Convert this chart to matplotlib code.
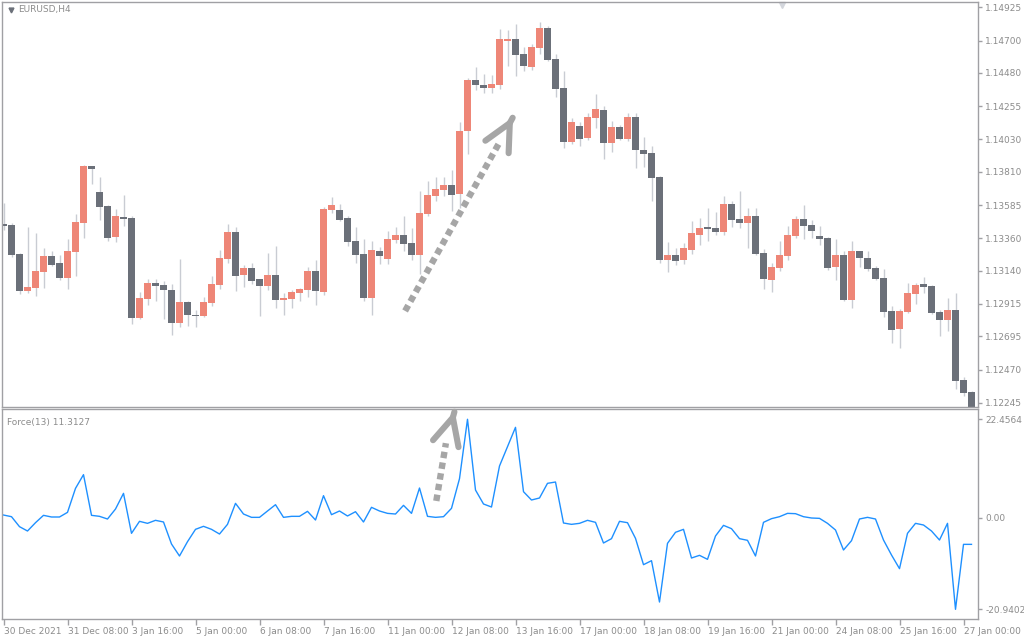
import matplotlib
matplotlib.use("Agg")
import matplotlib.pyplot as plt
import numpy as np

# EURUSD H4 candles
opens = [1.13456, 1.13449, 1.13253, 1.13002, 1.13022, 1.13131, 1.13239, 1.13192, 1.13090, 1.13266,
         1.13463, 1.13849, 1.13673, 1.13578, 1.13368, 1.13504, 1.13497, 1.12819, 1.12948, 1.13056,
         1.13042, 1.13009, 1.12785, 1.12927, 1.12842, 1.12835, 1.12921, 1.13042, 1.13219, 1.13402,
         1.13111, 1.13158, 1.13083, 1.13036, 1.13111, 1.12941, 1.12948, 1.12989, 1.13009, 1.13138,
         1.12995, 1.13551, 1.13551, 1.13497, 1.13341, 1.13253, 1.12955, 1.13273, 1.13219, 1.13348,
         1.13382, 1.13327, 1.13246, 1.13524, 1.13646, 1.13687, 1.13721, 1.13660, 1.14087, 1.14432,
         1.14398, 1.14378, 1.14398, 1.14697, 1.14710, 1.14608, 1.14520, 1.14649, 1.14785, 1.14575,
         1.14378, 1.14012, 1.14121, 1.14039, 1.14175, 1.14229, 1.14005, 1.14114, 1.14032, 1.14182,
         1.13958, 1.13938, 1.13775, 1.13212, 1.13246, 1.13212, 1.13280, 1.13382, 1.13436, 1.13429,
         1.13402, 1.13592, 1.13490, 1.13463, 1.13511, 1.13260, 1.13077, 1.13158, 1.13239, 1.13375,
         1.13490, 1.13449, 1.13375, 1.13361, 1.13165, 1.13246, 1.12941, 1.13273, 1.13226, 1.13158,
         1.13090, 1.12867, 1.12745, 1.12860, 1.12982, 1.13050, 1.13036, 1.12860, 1.12806, 1.12873,
         1.12399, 1.12318]
highs = [1.13599, 1.13463, 1.13260, 1.13436, 1.13395, 1.13294, 1.13273, 1.13246, 1.13355, 1.13524,
         1.13856, 1.13852, 1.13775, 1.13585, 1.13558, 1.13653, 1.13511, 1.12995, 1.13083, 1.13083,
         1.13070, 1.13050, 1.13219, 1.12934, 1.12873, 1.12961, 1.13104, 1.13280, 1.13456, 1.13436,
         1.13178, 1.13192, 1.13085, 1.13260, 1.13307, 1.12989, 1.13009, 1.13022, 1.13165, 1.13212,
         1.13571, 1.13639, 1.13592, 1.13511, 1.13436, 1.13355, 1.13341, 1.13300, 1.13409, 1.13436,
         1.13511, 1.13429, 1.13680, 1.13747, 1.13775, 1.13775, 1.13822, 1.14148, 1.14446, 1.14520,
         1.14473, 1.14466, 1.14778, 1.14771, 1.14812, 1.14656, 1.14676, 1.14825, 1.14798, 1.14608,
         1.14493, 1.14175, 1.14148, 1.14209, 1.14337, 1.14256, 1.14155, 1.14127, 1.14209, 1.14209,
         1.14046, 1.13985, 1.13782, 1.13334, 1.13294, 1.13327, 1.13477, 1.13497, 1.13565, 1.13538,
         1.13646, 1.13612, 1.13680, 1.13565, 1.13565, 1.13287, 1.13192, 1.13341, 1.13443, 1.13511,
         1.13585, 1.13483, 1.13443, 1.13368, 1.13355, 1.13273, 1.13341, 1.13275, 1.13273, 1.13172,
         1.13151, 1.12901, 1.12880, 1.13056, 1.13056, 1.13097, 1.13042, 1.12873, 1.12955, 1.12989,
         1.12419, 1.12324]
lows = [1.13416, 1.13233, 1.12982, 1.12989, 1.12968, 1.13022, 1.13172, 1.13077, 1.13016, 1.13104,
        1.13361, 1.13727, 1.13483, 1.13341, 1.13334, 1.13443, 1.12778, 1.12812, 1.12907, 1.12934,
        1.12812, 1.12704, 1.12758, 1.12765, 1.12758, 1.12826, 1.12901, 1.13016, 1.13192, 1.13002,
        1.13029, 1.13050, 1.12833, 1.13009, 1.12887, 1.12842, 1.12887, 1.12934, 1.12961, 1.12907,
        1.12975, 1.13531, 1.13477, 1.13307, 1.13192, 1.12934, 1.12839, 1.13185, 1.13185, 1.13327,
        1.13273, 1.13212, 1.13117, 1.13511, 1.13612, 1.13646, 1.13544, 1.13565, 1.13931, 1.14364,
        1.14344, 1.14344, 1.14371, 1.14527, 1.14459, 1.14493, 1.14500, 1.14608, 1.14561, 1.14317,
        1.13971, 1.13998, 1.13985, 1.14026, 1.14107, 1.13897, 1.13944, 1.14025, 1.14019, 1.13836,
        1.13843, 1.13612, 1.13192, 1.13131, 1.13178, 1.13185, 1.13253, 1.13314, 1.13341, 1.13382,
        1.13382, 1.13436, 1.13429, 1.13294, 1.13246, 1.13016, 1.12995, 1.13138, 1.13212, 1.13361,
        1.13355, 1.13361, 1.13314, 1.13144, 1.13077, 1.12934, 1.12887, 1.13165, 1.13138, 1.13077,
        1.12826, 1.12650, 1.12616, 1.12855, 1.12914, 1.12989, 1.12848, 1.12697, 1.12731, 1.12338,
        1.12290, 1.12195]
closes = [1.13443, 1.13246, 1.13002, 1.13029, 1.13138, 1.13239, 1.13178, 1.13090, 1.13273, 1.13470,
          1.13849, 1.13829, 1.13571, 1.13361, 1.13511, 1.13490, 1.12819, 1.12955, 1.13056, 1.13036,
          1.13009, 1.12785, 1.12927, 1.12842, 1.12835, 1.12927, 1.13050, 1.13226, 1.13402, 1.13104,
          1.13158, 1.13070, 1.13036, 1.13111, 1.12941, 1.12955, 1.12995, 1.13016, 1.13138, 1.13002,
          1.13558, 1.13585, 1.13483, 1.13334, 1.13246, 1.12955, 1.13280, 1.13239, 1.13355, 1.13382,
          1.13321, 1.13246, 1.13531, 1.13653, 1.13694, 1.13721, 1.13653, 1.14087, 1.14432, 1.14398,
          1.14378, 1.14405, 1.14710, 1.14710, 1.14602, 1.14527, 1.14656, 1.14785, 1.14568, 1.14371,
          1.14012, 1.14148, 1.14032, 1.14182, 1.14236, 1.14005, 1.14114, 1.14032, 1.14182, 1.13958,
          1.13931, 1.13768, 1.13212, 1.13246, 1.13205, 1.13294, 1.13395, 1.13429, 1.13422, 1.13402,
          1.13592, 1.13483, 1.13463, 1.13511, 1.13253, 1.13083, 1.13165, 1.13246, 1.13382, 1.13490,
          1.13443, 1.13409, 1.13355, 1.13158, 1.13246, 1.12941, 1.13273, 1.13226, 1.13151, 1.13083,
          1.12860, 1.12738, 1.12867, 1.12989, 1.13042, 1.13029, 1.12853, 1.12806, 1.12873, 1.12392,
          1.12311, 1.12210]

# Force Index (13)
force = [0.59, 0.21, -2.07, -3.06, -1.16, 0.52, 0.14, 0.14, 1.20, 6.68,
         9.81, 0.52, 0.29, -0.32, 1.96, 5.54, -3.59, -0.85, -1.31, -0.62,
         -1.00, -6.03, -8.77, -5.50, -2.68, -1.99, -2.68, -3.75, -1.54, 3.26,
         0.82, 0.06, 0.06, 1.51, 2.95, 0.06, 0.29, 0.29, 1.43, -0.55,
         5.01, 0.67, 1.51, 0.37, 1.35, -1.00, 2.35, 1.51, 0.97, 0.82,
         2.80, 0.97, 6.76, 0.29, 0.06, 0.21, 2.12, 8.89, 22.46, 6.30,
         3.11, 2.42, 11.79, 16.20, 20.62, 5.92, 4.02, 4.48, 7.83, 8.13,
         -1.23, -1.54, -1.31, -0.62, -1.08, -5.80, -4.81, -0.85, -1.16, -4.74,
         -10.75, -9.84, -19.28, -5.88, -3.36, -2.68, -9.23, -8.62, -9.53, -4.20,
         -1.77, -2.53, -4.81, -5.19, -8.77, -1.08, -0.24, 0.21, 0.97, 0.90,
         0.21, -0.09, -0.17, -1.31, -2.83, -7.40, -5.27, -0.32, 0.06, -0.32,
         -5.12, -8.54, -11.66, -3.59, -1.31, -1.69, -3.06, -5.12, -1.31, -20.95,
         -6.11, -6.11]

price_ticks = [1.14925, 1.14700, 1.14480, 1.14255, 1.14030, 1.13810, 1.13585,
               1.13360, 1.13140, 1.12915, 1.12695, 1.12470, 1.12245]
force_ticks = [22.4564, 0.0, -20.9402]
force_tick_labels = ["22.4564", "0.00", "-20.9402"]
date_labels = ["30 Dec 2021", "31 Dec 08:00", "3 Jan 16:00", "5 Jan 00:00", "6 Jan 08:00",
               "7 Jan 16:00", "11 Jan 00:00", "12 Jan 08:00", "13 Jan 16:00", "17 Jan 00:00",
               "18 Jan 08:00", "19 Jan 16:00", "21 Jan 00:00", "24 Jan 08:00", "25 Jan 16:00",
               "27 Jan 00:00"]

BULL = "#ee8677"
BEAR = "#6b7079"
WICK = "#c9ccd3"
AXC = "#a0a0a4"
TXT = "#8c8c8c"
ARROW = "#a6a6a6"

plt.rcParams["font.family"] = "DejaVu Sans"

o = np.array(opens)
h = np.array(highs)
l = np.array(lows)
c = np.array(closes)
x = np.arange(len(o))

fig = plt.figure(figsize=(10.24, 6.40), dpi=100)
ax = fig.add_axes([2.3 / 1024, 1 - 406.7 / 640, 976 / 1024, 404.4 / 640])
axf = fig.add_axes([2.3 / 1024, 1 - 619 / 640, 976 / 1024, 209.7 / 640])

# candles
up = c >= o
ax.vlines(x, l, h, color=WICK, lw=1, zorder=1)
body_low = np.minimum(o, c)
body_h = np.maximum(np.abs(c - o), 0.00003)
ax.bar(x, body_h, bottom=body_low, width=0.86, color=np.where(up, BULL, BEAR),
       linewidth=0, zorder=2)

ax.set_xlim(-0.15, 121.85)
ax.set_ylim(1.12218, 1.14959)
ax.set_xticks([])
ax.yaxis.tick_right()
ax.set_yticks(price_ticks)
ax.set_yticklabels([f"{p:.5f}" for p in price_ticks])

# force line
axf.plot(x, force, color="#1e90ff", lw=1)
axf.set_xlim(-0.15, 121.85)
axf.set_ylim(-23.16, 24.74)
axf.yaxis.tick_right()
axf.set_yticks(force_ticks)
axf.set_yticklabels(force_tick_labels)
axf.set_xticks(np.arange(0, 121, 8))
axf.set_xticklabels(date_labels, ha="left")

for a in (ax, axf):
    for s in a.spines.values():
        s.set_color(AXC)
        s.set_linewidth(1)
    a.tick_params(colors=AXC, labelcolor=TXT, labelsize=6.5, length=3, width=1, pad=2)
axf.tick_params(axis="x", length=4, pad=2)

# labels
ax.plot([0.0085], [0.981], marker="v", ms=3.5, color="#6b7079", transform=ax.transAxes,
        clip_on=False)
ax.text(0.016, 0.981, "EURUSD,H4", transform=ax.transAxes, fontsize=6.5, color=TXT,
        va="center", ha="left")
ax.plot([0.7985], [0.993], marker="v", ms=4.5, color="#d3d6dc", transform=ax.transAxes,
        clip_on=False, zorder=0)
axf.text(0.005, 0.96, "Force(13) 11.3127", transform=axf.transAxes, fontsize=6.5,
         color=TXT, va="top", ha="left")


def dotted_arrow(axis, start, neck, tip):
    axis.plot([start[0], neck[0]], [start[1], neck[1]], color=ARROW, lw=4.6,
              ls=(0, (1.0, 0.7)), dash_capstyle="butt", clip_on=False, zorder=5)
    back = (tip[0] - 0.03 * (tip[0] - neck[0]), tip[1] - 0.03 * (tip[1] - neck[1]))
    axis.annotate("", xy=tip, xytext=back,
                  arrowprops=dict(arrowstyle="->,head_length=1.95,head_width=0.95",
                                  color=ARROW, lw=4.4, shrinkA=0, shrinkB=0,
                                  joinstyle="miter"),
                  annotation_clip=False, zorder=5)


dotted_arrow(ax, (50.2, 1.12867), (61.9, 1.14000), (63.7, 1.14182))
dotted_arrow(axf, (54.1, 3.8), (55.3, 17.0), (56.4, 24.4))

fig.savefig("out.png", dpi=100, facecolor="white")
